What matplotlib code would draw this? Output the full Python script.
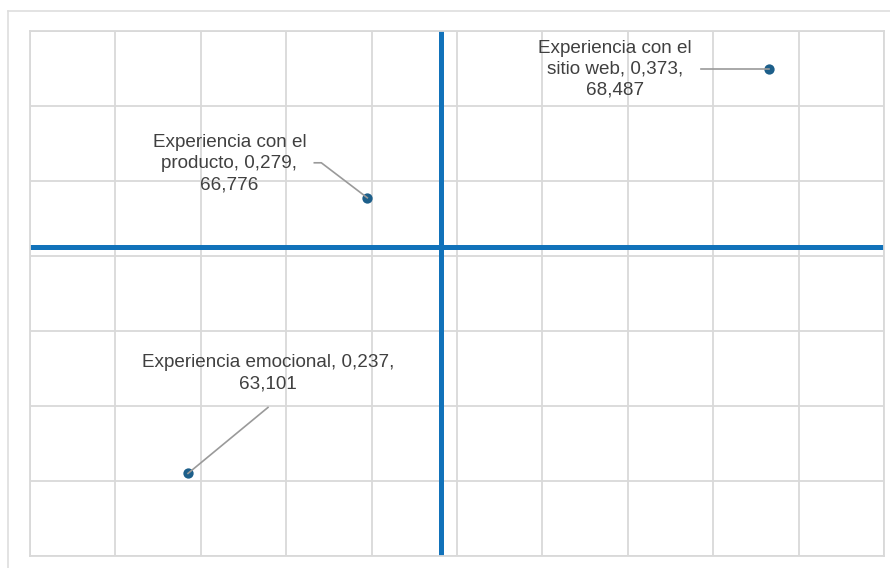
import numpy as np
import matplotlib
matplotlib.use("Agg")
import matplotlib.pyplot as plt
from matplotlib.lines import Line2D

plt.rcParams['font.family'] = ['Liberation Sans', 'DejaVu Sans']

categories = ["Experiencia con el sitio web", "Experiencia con el producto", "Experiencia emocional"]
x_vals = [0.373, 0.279, 0.237]
y_vals = [68.487, 66.776, 63.101]
labels = ["Experiencia con el\nsitio web, 0,373,\n68,487",
          "Experiencia con el\nproducto, 0,279,\n66,776",
          "Experiencia emocional, 0,237,\n63,101"]

# label offsets (pixels) and leader line vertices (pixel offsets from point)
label_offsets = [(-154, 0), (-138, 34), (80, 100)]
leaders = [[(-68, 0), (0, 0)],
           [(-53, 35), (-46, 35), (0, 0)],
           [(80, 66), (0, 0)]]

W, H = 890, 568
fig = plt.figure(figsize=(W / 100, H / 100), dpi=100)
fig.patch.set_facecolor('white')

# outer container frame
fig.add_artist(Line2D([8 / W, 8 / W], [0, 1 - 11 / H], color='#dedede', lw=1.2))
fig.add_artist(Line2D([8 / W, 1], [1 - 11 / H, 1 - 11 / H], color='#dedede', lw=1.2))

ax = fig.add_axes([30 / W, 12 / H, 854 / W, 525 / H])
ax.set_xlim(0.2, 0.4)
ax.set_ylim(62, 69)
ax.set_xticks(np.arange(0.2, 0.4001, 0.02))
ax.set_yticks(np.arange(62, 69.001, 1))
ax.grid(True, color='#d9d9d9', lw=1.3)
ax.set_axisbelow(True)
ax.tick_params(length=0, labelbottom=False, labelleft=False)
for s in ax.spines.values():
    s.set_color('#d9d9d9')
    s.set_linewidth(1.3)

mx = np.mean(x_vals)
my = np.mean(y_vals)
ax.axvline(mx, color='#1172ba', lw=3.6, zorder=2)
ax.axhline(my, color='#1172ba', lw=3.6, zorder=2)

ax.scatter(x_vals, y_vals, s=55, color='#1d5f8a', zorder=5, linewidths=0)

for x, y, lab, off, lead in zip(x_vals, y_vals, labels, label_offsets, leaders):
    ax.annotate(lab, xy=(x, y), xytext=off, textcoords='offset pixels',
                ha='center', va='center', fontsize=13.6, color='#404040',
                linespacing=1.3, zorder=6)
    px, py = ax.transData.transform((x, y))
    xs = [px + d[0] for d in lead]
    ys = [py + d[1] for d in lead]
    fig.add_artist(Line2D(xs, ys, transform=None, color='#9a9a9a', lw=1.2, zorder=4))

fig.savefig('out.png', dpi=100)
